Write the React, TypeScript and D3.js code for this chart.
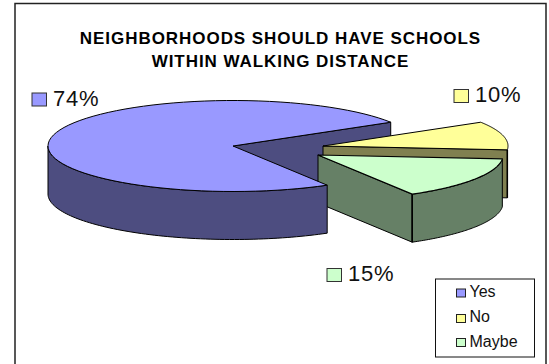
import React from "react";
import * as d3 from "d3";

const categories = ["Yes", "No", "Maybe"];
const values = [74, 10, 15];
const labels = ["74%", "10%", "15%"];
const topColors = ["#9999ff", "#ffff99", "#ccffcc"];
const wallColors = ["#4d4d80", "#808050", "#668066"];
const titleLines = ["NEIGHBORHOODS SHOULD HAVE SCHOOLS", "WITHIN WALKING DISTANCE"];
const explodeX = [0, 90, 85];
const explodeY = [0, 0, 9];
const labelSwatchX = [32, 454, 327];
const labelSwatchY = [93, 89.5, 268.5];
const legendRowY = [293, 318.5, 342.5];
const legendBaseY = [297, 322, 347];

const CX = 233, CY = 146, RX = 185, RY = 45.5, DEPTH = 48;
const START = (149.4 * Math.PI) / 180;
const TAU = 2 * Math.PI;

const arcs = d3
  .pie<number>()
  .sort(null)
  .startAngle(START)
  .endAngle(START + TAU)(values);

const line = d3.line<[number, number]>().x((d) => d[0]).y((d) => d[1]);
const pt = (i: number, a: number, dz = 0): [number, number] => [
  CX + explodeX[i] + RX * Math.sin(a),
  CY + explodeY[i] - RY * Math.cos(a) + dz,
];
const apex = (i: number, dz = 0): [number, number] => [CX + explodeX[i], CY + explodeY[i] + dz];
const sample = (a0: number, a1: number) => d3.range(0, 81).map((k) => a0 + ((a1 - a0) * k) / 80);

const topPath = (i: number) => {
  const { startAngle, endAngle } = arcs[i];
  return line([apex(i), ...sample(startAngle, endAngle).map((a) => pt(i, a))]) + "Z";
};
const facePath = (i: number, a: number) =>
  line([apex(i), pt(i, a), pt(i, a, DEPTH), apex(i, DEPTH)]) + "Z";
// Outer wall: only the part of the rim that faces the viewer (90° to 270°).
const wallPath = (i: number) => {
  const h = Math.PI / 2;
  let { startAngle: s, endAngle: e } = arcs[i];
  if (s >= TAU) {
    s -= TAU;
    e -= TAU;
  }
  const lo = Math.max(s, h);
  const hi = Math.min(e, 3 * h);
  if (hi <= lo) return "";
  const pts = sample(lo, hi);
  return line([...pts.map((a) => pt(i, a)), ...pts.slice().reverse().map((a) => pt(i, a, DEPTH))]) + "Z";
};

const S = { stroke: "#000", strokeWidth: 1, strokeLinejoin: "round" as const };

export default function App() {
  const font = "'Liberation Sans', Arial, sans-serif";
  const greenEdge = pt(2, arcs[2].endAngle);
  const greenEdgeLow = pt(2, arcs[2].endAngle, DEPTH);
  const yellowEdge = pt(1, arcs[1].endAngle);
  const yellowEdgeLow = pt(1, arcs[1].endAngle, DEPTH);
  return (
    <svg
      width={549}
      height={364}
      style={{ position: "absolute", left: 0, top: 0, background: "#fff", fontFamily: font }}
    >
      <path d="M15 364V3.5H546V364" fill="none" stroke="#222" strokeWidth={1.5} />
      {titleLines.map((t, i) => (
        <text key={t} x={280.5} y={44 + i * 22.8} textAnchor="middle" fontSize={17} fontWeight={700} letterSpacing={0.95} fill="#000">
          {t}
        </text>
      ))}

      {/* Yes: visible cut face behind the other slices */}
      <path d={facePath(0, arcs[0].endAngle)} fill={wallColors[0]} {...S} />

      {/* No */}
      <path d={facePath(1, arcs[1].endAngle)} fill={wallColors[1]} {...S} />
      <path d={topPath(1)} fill={topColors[1]} {...S} />
      <line x1={yellowEdge[0]} x2={yellowEdge[0]} y1={yellowEdge[1]} y2={yellowEdgeLow[1]} {...S} strokeWidth={1.5} />

      {/* Maybe */}
      <path d={wallPath(2)} fill={wallColors[2]} {...S} />
      <path d={facePath(2, arcs[2].endAngle)} fill={wallColors[2]} {...S} />
      <path d={topPath(2)} fill={topColors[2]} {...S} strokeWidth={1.2} />
      <line x1={greenEdge[0]} x2={greenEdge[0]} y1={greenEdge[1]} y2={greenEdgeLow[1]} {...S} strokeWidth={1.6} />

      {/* Yes: rim and top in front */}
      <path d={wallPath(0)} fill={wallColors[0]} {...S} />
      <path d={topPath(0)} fill={topColors[0]} {...S} />

      {labels.map((t, i) => (
        <g key={t}>
          <rect x={labelSwatchX[i]} y={labelSwatchY[i]} width={14.5} height={13} fill={topColors[i]} stroke="#333" strokeWidth={1} />
          <text x={labelSwatchX[i] + 21} y={labelSwatchY[i] + 12.7} fontSize={22} letterSpacing={0.8} fill="#111">
            {t}
          </text>
        </g>
      ))}

      <rect x={435.5} y={279} width={99} height={78} fill="#fff" stroke="#111" strokeWidth={1} />
      {categories.map((c, i) => (
        <g key={c}>
          <rect x={456.5} y={legendRowY[i] - 4} width={9} height={8} fill={topColors[i]} stroke="#222" strokeWidth={1} />
          <text x={469.5} y={legendBaseY[i]} fontSize={16} fill="#111">
            {c}
          </text>
        </g>
      ))}
    </svg>
  );
}
